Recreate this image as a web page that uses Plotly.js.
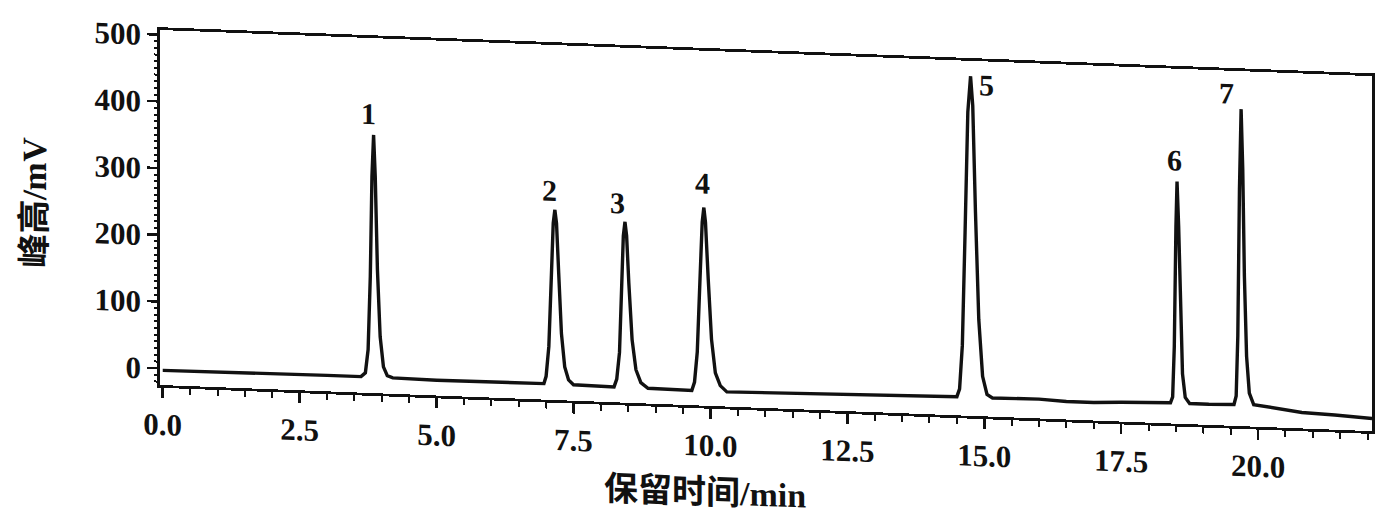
<!DOCTYPE html>
<html>
<head>
<meta charset="utf-8">
<script src="https://cdn.plot.ly/plotly-3.0.1.min.js"></script>
<style>
  html, body { margin: 0; padding: 0; background: #fff; overflow: hidden; }
  #chart { width: 1377px; height: 518px; transform: skewY(2.18deg); transform-origin: 160px 0; }
</style>
</head>
<body>
<div id="chart"></div>
<script>
// Chromatogram trace (retention time in min, signal in mV)
const timeMin = [
  0.00, 1.00, 2.00, 3.00, 3.62,
  3.70, 3.75, 3.79, 3.82, 3.85, 3.88, 3.92, 3.97, 4.03, 4.10, 4.20,
  5.00, 6.00, 6.96,
  7.00, 7.05, 7.10, 7.13, 7.16, 7.19, 7.23, 7.28, 7.34, 7.41, 7.50,
  7.90, 8.24,
  8.29, 8.34, 8.38, 8.41, 8.44, 8.47, 8.51, 8.57, 8.64, 8.73, 8.86,
  9.30, 9.66,
  9.71, 9.76, 9.81, 9.85, 9.88, 9.91, 9.96, 10.02, 10.09, 10.18, 10.30,
  11.00, 12.00, 13.00, 14.00, 14.50,
  14.55, 14.60, 14.65, 14.70, 14.75, 14.79, 14.84, 14.90, 14.97, 15.05, 15.15,
  15.60, 16.00, 16.50, 17.00, 17.50, 18.00, 18.40,
  18.44, 18.47, 18.50, 18.52, 18.55, 18.58, 18.62, 18.67, 18.75,
  19.10, 19.56,
  19.60, 19.63, 19.66, 19.69, 19.72, 19.75, 19.79, 19.84, 19.92,
  20.20, 20.80, 21.40, 22.08
];
const signalMv = [
  -3, -2, -2, -1, -1,
  5, 40, 150, 300, 362, 300, 160, 60, 15, 2, -1,
  -2, -1, -1,
  10, 55, 170, 240, 260, 240, 165, 75, 25, 6, -1,
  -2, -2,
  10, 50, 150, 225, 246, 225, 155, 70, 25, 6, -2,
  -3, -3,
  10, 55, 165, 250, 272, 250, 165, 75, 25, 6, -3,
  -2, 0, 1, 3, 3,
  15, 80, 250, 430, 484, 440, 280, 120, 35, 8, 3,
  4, 4, 2, 2, 4, 5, 6,
  15, 90, 270, 338, 270, 150, 50, 15, 6,
  6, 7,
  20, 110, 330, 450, 360, 200, 80, 25, 8,
  5, -1, -3, -6
];

const peakLabels = ["1", "2", "3", "4", "5", "6", "7"];
const peakLabelTime = [3.75, 7.07, 8.31, 9.86, 15.05, 18.48, 19.43];
const peakLabelMv = [394, 289, 274, 308, 472, 370, 474];

const xTickVals = [0, 2.5, 5, 7.5, 10, 12.5, 15, 17.5, 20];
const yTickVals = [0, 100, 200, 300, 400, 500];

const xTitle = "保留时间/min";
const yTitle = "峰高/mV";

const serif = "'Liberation Serif', 'Times New Roman', 'Noto Sans CJK SC', serif";
const cjk = "'Liberation Serif', 'Noto Sans CJK SC', serif";

const trace = {
  x: timeMin,
  y: signalMv,
  type: "scatter",
  mode: "lines",
  line: { color: "#111", width: 3.4 },
  hoverinfo: "x+y",
  showlegend: false
};

const annotations = peakLabels.map((t, i) => ({
  x: peakLabelTime[i],
  y: peakLabelMv[i],
  xref: "x",
  yref: "y",
  text: t,
  showarrow: false,
  xanchor: "center",
  yanchor: "middle",
  font: { family: serif, size: 30, color: "#111", weight: "bold" }
}));

annotations.push({
  x: 0.45,
  y: -0.243,
  xref: "paper",
  yref: "paper",
  text: xTitle,
  showarrow: false,
  xanchor: "center",
  yanchor: "middle",
  font: { family: cjk, size: 34, color: "#111", weight: "bold" }
});

const layout = {
  width: 1377,
  height: 518,
  margin: { l: 160, r: 5, t: 30, b: 133 },
  paper_bgcolor: "#fff",
  plot_bgcolor: "#fff",
  showlegend: false,
  xaxis: {
    range: [-0.05, 22.08],
    tickvals: xTickVals,
    tickformat: ".1f",
    ticks: "outside",
    ticklen: 10,
    tickwidth: 2.5,
    tickcolor: "#111",
    minor: { dtick: 0.5, ticks: "outside", ticklen: 6, tickwidth: 2, tickcolor: "#111", showgrid: false },
    showline: true,
    linecolor: "#111",
    linewidth: 2.8,
    mirror: true,
    showgrid: false,
    zeroline: false,
    tickfont: { family: serif, size: 31, color: "#111", weight: "bold" }
  },
  yaxis: {
    range: [-25, 507],
    tickvals: yTickVals,
    ticks: "outside",
    ticklen: 10,
    tickwidth: 2.5,
    tickcolor: "#111",
    minor: { dtick: 10, ticks: "outside", ticklen: 3, tickwidth: 2, tickcolor: "#111", showgrid: false },
    showline: true,
    linecolor: "#111",
    linewidth: 2.8,
    mirror: true,
    showgrid: false,
    zeroline: false,
    tickfont: { family: serif, size: 31, color: "#111", weight: "bold" },
    title: { text: yTitle, font: { family: cjk, size: 34, color: "#111", weight: "bold" }, standoff: 38 }
  },
  annotations: annotations
};

Plotly.newPlot("chart", [trace], layout, { staticPlot: true, displayModeBar: false });
</script>
</body>
</html>
